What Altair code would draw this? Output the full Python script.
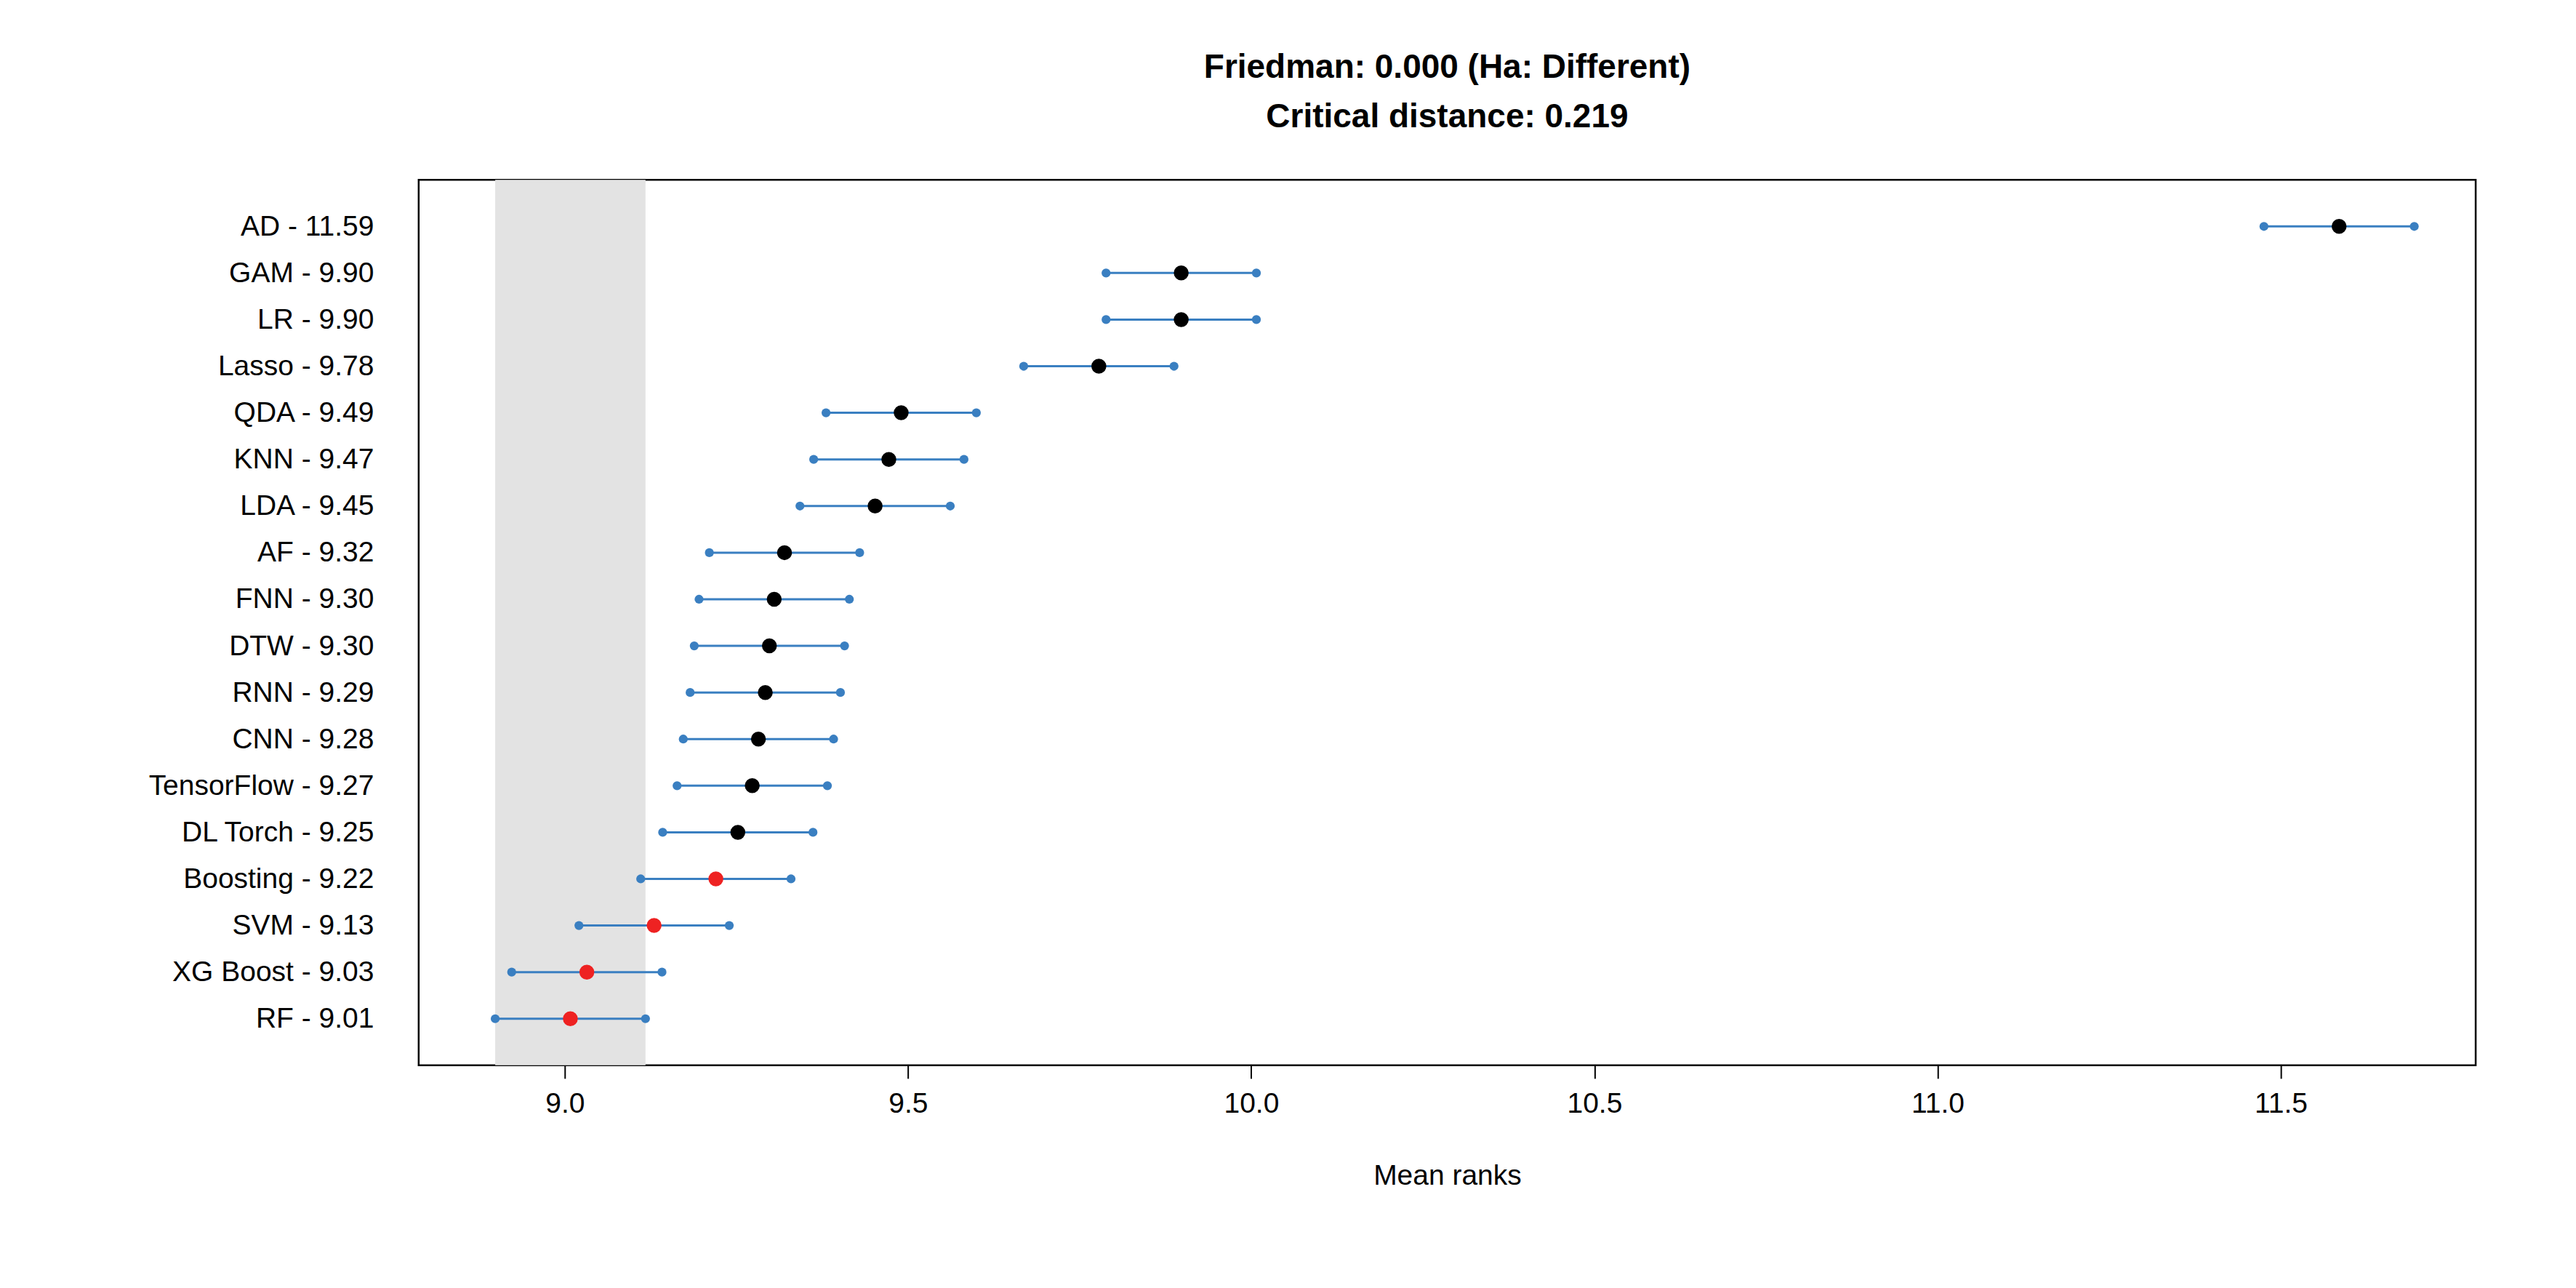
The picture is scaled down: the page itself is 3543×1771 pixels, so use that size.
import pandas as pd
import altair as alt

models = ["AD", "GAM", "LR", "Lasso", "QDA", "KNN", "LDA", "AF", "FNN", "DTW",
          "RNN", "CNN", "TensorFlow", "DL Torch", "Boosting", "SVM", "XG Boost", "RF"]
mean_ranks = [11.585, 9.898, 9.898, 9.778, 9.490, 9.472, 9.452, 9.320, 9.305, 9.298,
              9.292, 9.282, 9.273, 9.252, 9.220, 9.130, 9.032, 9.008]
shown = ["11.59", "9.90", "9.90", "9.78", "9.49", "9.47", "9.45", "9.32", "9.30", "9.30",
         "9.29", "9.28", "9.27", "9.25", "9.22", "9.13", "9.03", "9.01"]
critical_distance = 0.219
best = min(mean_ranks)

df = pd.DataFrame({"model": models, "rank": mean_ranks, "shown": shown})
df["row"] = range(1, len(df) + 1)
df["label"] = df["model"] + " - " + df["shown"]
df["lo"] = df["rank"] - critical_distance / 2
df["hi"] = df["rank"] + critical_distance / 2
df["group"] = ["same" if r - best < critical_distance else "diff" for r in df["rank"]]

W, H = 2830, 1218
xs = alt.Scale(domain=[8.787, 11.784], nice=False, zero=False)
ys = alt.Scale(domain=[0, 19], reverse=True, nice=False, zero=False)

label_expr = "{" + ",".join(f"'{r}':'{l}'" for r, l in zip(df["row"], df["label"])) + "}[datum.value]"

band = alt.Chart(pd.DataFrame({"a": [best - critical_distance / 2], "b": [best + critical_distance / 2]})).mark_rect(
    color="#e3e3e3").encode(
    x=alt.X("a:Q", scale=xs, title="Mean ranks",
            axis=alt.Axis(values=[9.0, 9.5, 10.0, 10.5, 11.0, 11.5], format=".1f", grid=False,
                          tickSize=18, tickColor="black", tickWidth=2, domain=False,
                          labelFontSize=39, titleFontSize=39, labelPadding=16, titlePadding=60,
                          labelColor="black", titleColor="black", titleFontWeight="normal")),
    x2="b:Q",
    y=alt.value(0), y2=alt.value(H),
)

base = alt.Chart(df)
y_enc = alt.Y("row:Q", scale=ys, title=None,
              axis=alt.Axis(values=list(df["row"]), labelExpr=label_expr, ticks=False, domain=False,
                            grid=False, labelFontSize=39, labelPadding=62, labelColor="black",
                            labelLimit=1000))

rules = base.mark_rule(color="#3A7FC1", strokeWidth=3).encode(x=alt.X("lo:Q", scale=xs), x2="hi:Q", y=y_enc)
lo_pts = base.mark_circle(color="#3A7FC1", size=150, opacity=1).encode(x=alt.X("lo:Q", scale=xs), y=y_enc)
hi_pts = base.mark_circle(color="#3A7FC1", size=150, opacity=1).encode(x=alt.X("hi:Q", scale=xs), y=y_enc)
means = base.mark_circle(size=420, opacity=1).encode(
    x=alt.X("rank:Q", scale=xs), y=y_enc,
    color=alt.Color("group:N", scale=alt.Scale(domain=["same", "diff"], range=["#ee2222", "black"]), legend=None),
)

chart = alt.layer(band, rules, lo_pts, hi_pts, means).properties(
    width=W, height=H,
    autosize=alt.AutoSizeParams(type="none"),
    padding={"left": 568, "top": 239, "right": 130, "bottom": 300},
    title=alt.TitleParams(["Friedman: 0.000 (Ha: Different)", "Critical distance: 0.219"],
                          fontSize=46, fontWeight="bold", offset=62, color="black", lineHeight=68),
).configure(font="Liberation Sans").configure_view(stroke="black", strokeWidth=2.5)

chart.save("out.html", embed_options={"renderer": "svg", "actions": False})
